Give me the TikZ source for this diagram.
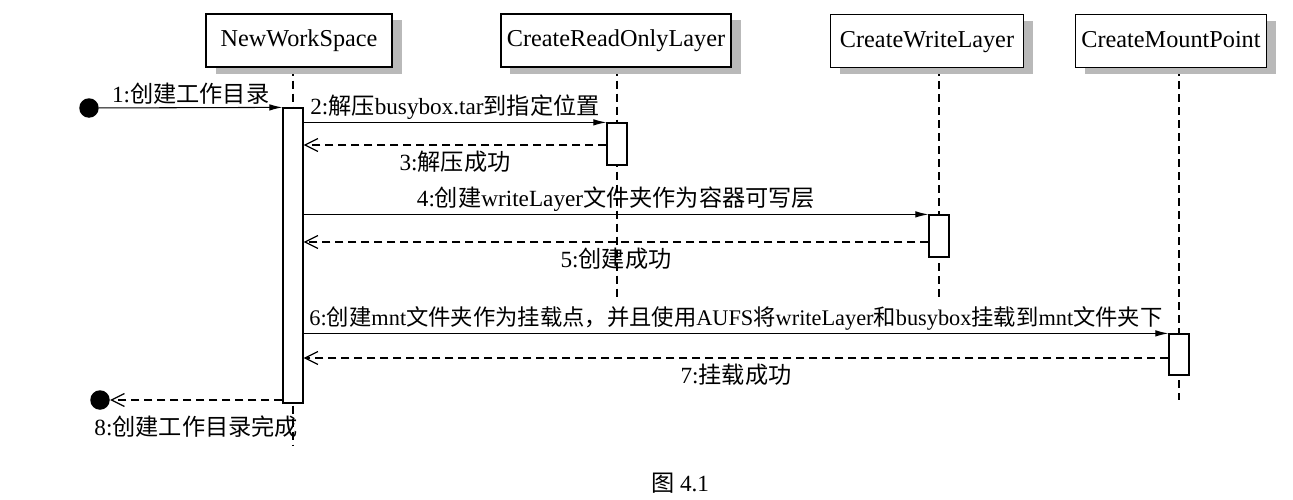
\documentclass[tikz,border=0pt]{standalone}
\usepackage{fontspec}
\setmainfont{Liberation Serif}
\newfontfamily\cjk{Noto Sans CJK SC}
\newcommand{\zh}[1]{{\cjk #1}}
\usetikzlibrary{arrows.meta,fit,backgrounds,shadows}

\begin{document}
\begin{tikzpicture}[
  x=0.2mm, y=-0.2mm,
  font=\fontsize{13.2}{15}\selectfont,
  obj/.style={draw,line width=0.8pt,fill=white,inner xsep=1.2mm,minimum height=10.6mm,
    font=\fontsize{13.8}{16}\selectfont,text height=2.2ex,text depth=0.6ex,
    drop shadow={shadow xshift=1.9mm,shadow yshift=-1.3mm,fill=gray!55,opacity=1}},
  act/.style={draw,line width=0.7pt,fill=white,inner sep=0pt},
  life/.style={draw,line width=0.8pt,dash pattern=on 1.6mm off 1mm},
  msg/.style={draw,line width=0.6pt,-{Latex[length=2.6mm,width=1.3mm]}},
  ret/.style={draw,line width=0.7pt,dash pattern=on 1.6mm off 1mm,
    -{Straight Barb[length=2.6mm,width=2.6mm]}},
  dot/.style={circle,fill=black,minimum size=3.9mm,inner sep=0pt},
  lbl/.style={inner sep=1.5pt},
  rlbl/.style={inner sep=3.2pt},
]
\useasboundingbox (0,0) rectangle (1293,500);

% ---------- objects ----------
\node[obj,minimum width=37.2mm] (nws) at (299,40.5) {NewWorkSpace};
\node[obj,minimum width=45.6mm] (rol) at (616,40.5) {CreateReadOnlyLayer};
\node[obj,minimum width=38.6mm] (cwl) at (927,41) {CreateWriteLayer};
\node[obj,minimum width=37.6mm] (cmp) at (1171,41) {CreateMountPoint};

% ---------- activations ----------
\node[act,fit={(283,108)(303,403)}] (a0) {};
\node[act,fit={(607,123)(627,165)}] (a1) {};
\node[act,fit={(929,215)(949,257)}] (a2) {};
\node[act,fit={(1169,334)(1189,375)}] (a3) {};

\coordinate (e0) at (293,445);
\coordinate (e1) at (617,300);
\coordinate (e2) at (939,298);
\coordinate (e3) at (1179,400);

\begin{scope}[on background layer]
  \fill[white] (0,0) rectangle (1293,500);
  \draw[life] (nws.south -| a0.north) -- (e0);
  \draw[life] (rol.south -| a1.north) -- (e1);
  \draw[life] (cwl.south -| a2.north) -- (e2);
  \draw[life] (cmp.south -| a3.north) -- (e3);
\end{scope}

% ---------- messages ----------
\node[dot] (start) at (89,108) {};
\node[dot] (stop) at (100,400) {};

\coordinate (r3) at (617,145);
\coordinate (r5) at (939,242);
\coordinate (r7) at (1179,358);

\draw[msg] (start) -- node[lbl,above] {1:\zh{创建工作目录}} (a0.north west);
\draw[msg] (a0.east |- a1.north) -- node[lbl,above] {2:\zh{解压}busybox.tar\zh{到指定位置}} (a1.north west);
\draw[ret] (r3 -| a1.west) -- node[rlbl,below] {3:\zh{解压成功}} (r3 -| a0.east);
\draw[msg] (a0.east |- a2.north) -- node[lbl,above] {4:\zh{创建}writeLayer\zh{文件夹作为容器可写层}} (a2.north west);
\draw[ret] (r5 -| a2.west) -- node[rlbl,below] {5:\zh{创建成功}} (r5 -| a0.east);
\draw[msg] (a0.east |- a3.north) -- node[lbl,above,font=\fontsize{12.7}{15}\selectfont]
  {6:\zh{创建}mnt\zh{文件夹作为挂载点，并且使用}AUFS\zh{将}writeLayer\zh{和}busybox\zh{挂载到}mnt\zh{文件夹下}} (a3.north west);
\draw[ret] (r7 -| a3.west) -- node[rlbl,below] {7:\zh{挂载成功}} (r7 -| a0.east);
\draw[ret] (a0.west |- stop) -- node[rlbl,below,yshift=-2mm] {8:\zh{创建工作目录完成}} (stop);

\node (cap) at (680,483) {\zh{图} 4.1};

\end{tikzpicture}
\end{document}
